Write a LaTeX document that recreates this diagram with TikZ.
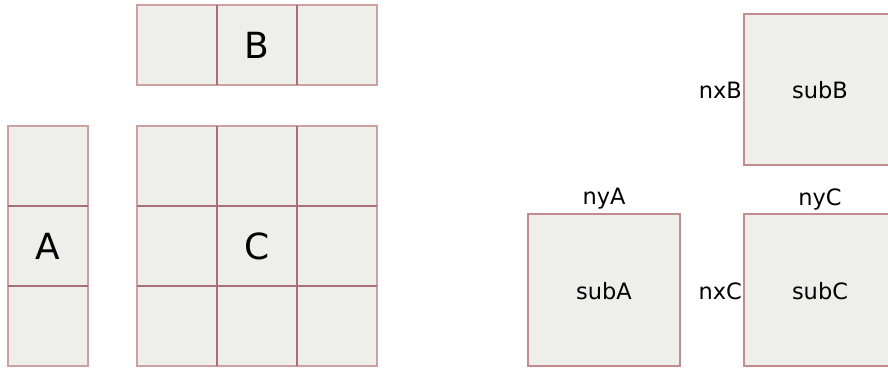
\documentclass[tikz,border=0pt]{standalone}
\usepackage{fontspec}
\setmainfont{DejaVu Sans}
\definecolor{cellfill}{RGB}{238,238,234}
\definecolor{gridout}{RGB}{205,160,162}
\definecolor{gridin}{RGB}{170,110,118}
\definecolor{subline}{RGB}{192,140,142}
\tikzset{
  big/.style={font=\fontsize{36}{40}\selectfont},
  small/.style={font=\fontsize{22.5}{26}\selectfont},
  gridbox/.style={fill=cellfill, draw=gridout, line width=2pt},
  gridline/.style={draw=gridin, line width=1.3pt},
  subbox/.style={fill=cellfill, draw=subline, line width=2.8pt},
}
\begin{document}
\begin{tikzpicture}[x=1pt,y=-1pt]
\useasboundingbox (0,0) rectangle (888,368);
\clip (0,0) rectangle (888,368);
% B
\draw[gridbox] (137,5) rectangle (377,85);
\draw[gridline] (217,5) -- (217,85) (297,5) -- (297,85);
\node[big] (B) at (257,45) {B};
% A
\draw[gridbox] (8,126) rectangle (88,366);
\draw[gridline] (8,206) -- (88,206) (8,286) -- (88,286);
\node[big] (A) at (48,246) {A};
% C
\draw[gridbox] (137,126) rectangle (377,366);
\draw[gridline] (217,126) -- (217,366) (297,126) -- (297,366)
  (137,206) -- (377,206) (137,286) -- (377,286);
\node[big] (C) at (257,246) {C};
% sub boxes
\draw[subbox] (528,214) rectangle (680,366);
\draw[subbox] (744,14) rectangle (896,165);
\draw[subbox] (744,214) rectangle (896,366);
\node[small] (subA) at (604,291) {subA};
\node[small] (subB) at (820,90) {subB};
\node[small] (subC) at (820,291) {subC};
\node[small] (nyA) at (604,199) {nyA};
\node[small] (nyC) at (820,199) {nyC};
\node[small, anchor=east, inner sep=0pt] (nxB) at (742,90) {nxB};
\node[small, anchor=east, inner sep=0pt] (nxC) at (742,291) {nxC};
\end{tikzpicture}
\end{document}
